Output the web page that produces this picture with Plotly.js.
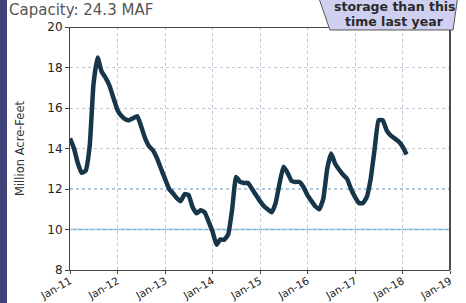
<!DOCTYPE html>
<html>
<head>
<meta charset="utf-8">
<script src="https://cdn.plot.ly/plotly-3.0.1.min.js"></script>
<style>
html,body{margin:0;padding:0;background:#fff;}
#wrap{position:relative;width:466px;height:303px;overflow:hidden;background:#fff;}
#strip{position:absolute;left:0;top:0;width:7px;height:303px;background:#3f4279;}
#chart{position:absolute;left:0;top:0;width:466px;height:303px;}
</style>
</head>
<body>
<div id="wrap"><div id="chart"></div><div id="strip"></div></div>
<script>
// Monthly storage, Jan-2011 .. Feb-2018 (million acre-feet)
const months = [
 "2011-01","2011-02","2011-03","2011-04","2011-05","2011-06","2011-07","2011-08","2011-09","2011-10","2011-11","2011-12",
 "2012-01","2012-02","2012-03","2012-04","2012-05","2012-06","2012-07","2012-08","2012-09","2012-10","2012-11","2012-12",
 "2013-01","2013-02","2013-03","2013-04","2013-05","2013-06","2013-07","2013-08","2013-09","2013-10","2013-11","2013-12",
 "2014-01","2014-02","2014-03","2014-04","2014-05","2014-06","2014-07","2014-08","2014-09","2014-10","2014-11","2014-12",
 "2015-01","2015-02","2015-03","2015-04","2015-05","2015-06","2015-07","2015-08","2015-09","2015-10","2015-11","2015-12",
 "2016-01","2016-02","2016-03","2016-04","2016-05","2016-06","2016-07","2016-08","2016-09","2016-10","2016-11","2016-12",
 "2017-01","2017-02","2017-03","2017-04","2017-05","2017-06","2017-07","2017-08","2017-09","2017-10","2017-11","2017-12",
 "2018-01","2018-02"
];
const storage = [
 14.5,14.0,13.3,12.8,12.9,14.1,17.2,18.5,17.8,17.5,17.1,16.5,
 15.9,15.6,15.45,15.4,15.5,15.6,15.1,14.5,14.1,13.9,13.5,13.0,
 12.5,12.0,11.8,11.55,11.4,11.75,11.7,11.1,10.8,10.95,10.85,10.4,
 9.9,9.25,9.5,9.5,9.75,11.0,12.6,12.35,12.3,12.3,12.0,11.7,
 11.4,11.15,11.0,10.85,11.3,12.3,13.1,12.8,12.4,12.35,12.35,12.1,
 11.7,11.4,11.15,11.0,11.5,13.0,13.75,13.25,12.95,12.7,12.5,12.0,
 11.6,11.3,11.3,11.6,12.5,14.0,15.4,15.4,14.9,14.65,14.5,14.35,
 14.1,13.7
];
const yTicks = [8,10,12,14,16,18,20];
const titleText = "Capacity: 24.3 MAF";
const calloutLines = ["storage than this","time last year"];
const yTitle = "Million Acre-Feet";

const font = "'DejaVu Sans', 'Open Sans', sans-serif";

const trace = {
  x: months.map(m => m + "-01"),
  y: storage,
  type: "scatter",
  mode: "lines",
  line: {color: "#173649", width: 4.5, shape: "spline", smoothing: 0.4},
  hoverinfo: "skip"
};

const layout = {
  width: 466, height: 303,
  margin: {l: 70, r: 16, t: 27, b: 33},
  paper_bgcolor: "#ffffff",
  plot_bgcolor: "#ffffff",
  showlegend: false,
  font: {family: font, color: "#222"},
  xaxis: {
    type: "date",
    range: ["2011-01-01", "2019-01-01"],
    tick0: "2011-01-01", dtick: "M12",
    tickformat: "%b-%y",
    tickangle: -30,
    tickfont: {size: 10.5, family: font, color: "#222"},
    ticklabelstandoff: -3,
    showgrid: true, gridcolor: "#c4c4d4", griddash: "dot", gridwidth: 1,
    showline: true, linecolor: "#444", linewidth: 1,
    ticks: "outside", ticklen: 3, tickcolor: "#444",
    zeroline: false
  },
  yaxis: {
    range: [8, 20],
    tickvals: yTicks,
    tickfont: {size: 12, family: font, color: "#222"},
    showgrid: true, gridcolor: "#c4c4d4", griddash: "dot", gridwidth: 1,
    showline: true, linecolor: "#444", linewidth: 1,
    ticks: "outside", ticklen: 4, tickcolor: "#444",
    zeroline: false,
    title: {text: yTitle, font: {size: 11.5, family: font, color: "#333"}, standoff: 20}
  },
  shapes: [
    {type: "line", xref: "paper", x0: 0, x1: 1, yref: "y", y0: 12, y1: 12,
     line: {color: "#4b9fd0", width: 1, dash: "dot"}, layer: "below"},
    {type: "line", xref: "paper", x0: 0, x1: 1, yref: "y", y0: 10, y1: 10,
     line: {color: "#5fc0e6", width: 1.5}, layer: "below"},
    {type: "line", xref: "paper", x0: 0, x1: 1, yref: "y", y0: 20, y1: 20,
     line: {color: "#111", width: 1.5}},
    {type: "line", xref: "paper", x0: 1, x1: 1, yref: "paper", y0: 0, y1: 1,
     line: {color: "#111", width: 1.5}},
    {type: "path", xref: "paper", yref: "paper",
     path: "M 0.6526 1.13 L 1.021 1.13 L 1.008 0.9877 L 0.684 0.9877 Z",
     fillcolor: "#cfd0ef", line: {color: "#555", width: 1}}
  ],
  annotations: [
    {xref: "paper", yref: "paper", x: -0.165, y: 1.0, xanchor: "left", yanchor: "bottom",
     yshift: 6,
     text: titleText, showarrow: false, font: {size: 15, family: font, color: "#555"}},
    {xref: "paper", yref: "paper", x: 0.855, y: 1.0, xanchor: "center", yanchor: "middle",
     yshift: 21, text: calloutLines[0], showarrow: false,
     font: {size: 12.5, family: font, color: "#2a2a2a", weight: "bold"}},
    {xref: "paper", yref: "paper", x: 0.855, y: 1.0, xanchor: "center", yanchor: "middle",
     yshift: 6, text: calloutLines[1], showarrow: false,
     font: {size: 12.5, family: font, color: "#2a2a2a", weight: "bold"}}
  ]
};

Plotly.newPlot("chart", [trace], layout, {staticPlot: true, displayModeBar: false});
</script>
</body>
</html>
